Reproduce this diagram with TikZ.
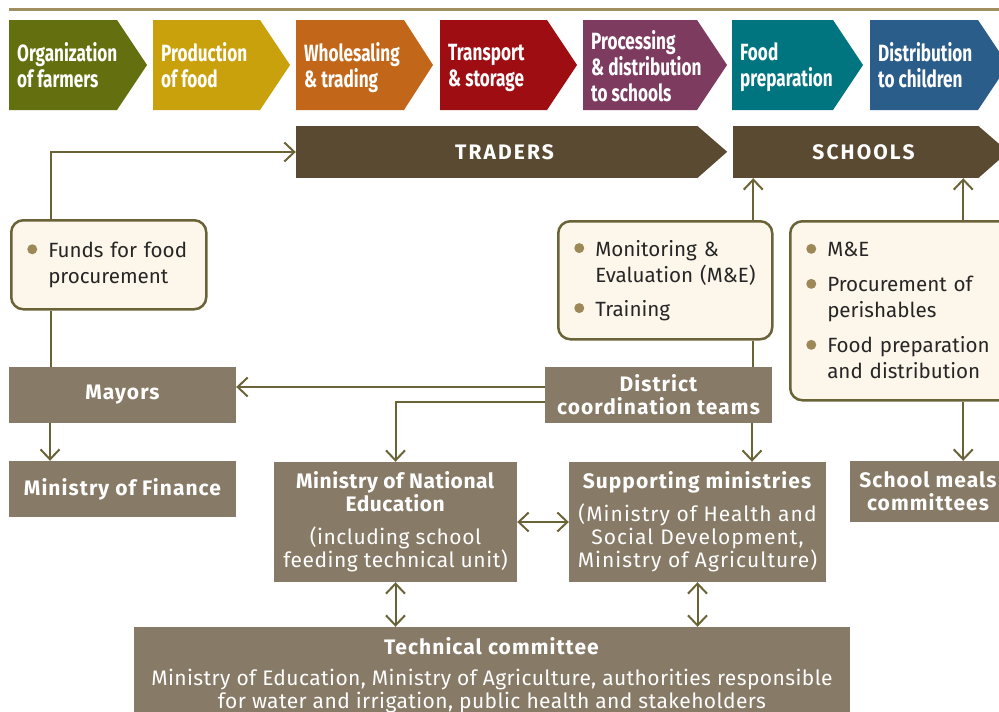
\documentclass[tikz,border=0pt]{standalone}
\usepackage{fontspec}
\setmainfont{Fira Sans}
\newfontfamily\chevfont[FakeStretch=0.73]{Fira Sans}
\newfontfamily\barfont[LetterSpace=10]{Fira Sans}
\usetikzlibrary{arrows.meta,positioning}

\definecolor{rulecol}{HTML}{A08F60}
\definecolor{orgcol}{HTML}{64700F}
\definecolor{prodcol}{HTML}{C9A10C}
\definecolor{wholecol}{HTML}{C26719}
\definecolor{transcol}{HTML}{9E0D12}
\definecolor{proccol}{HTML}{7D3B60}
\definecolor{prepcol}{HTML}{00757F}
\definecolor{distrcol}{HTML}{2B5D8A}
\definecolor{barcol}{HTML}{5A4A31}
\definecolor{boxcol}{HTML}{877A66}
\definecolor{linecol}{HTML}{6B6338}
\definecolor{creamcol}{HTML}{FDF7EB}
\definecolor{dotcol}{HTML}{9C8957}
\definecolor{txtcol}{HTML}{262626}

\newcommand{\bul}{\makebox[21pt][l]{\tikz[baseline=-3pt]\fill[dotcol] (5pt,5pt) circle (5pt);}}
\newcommand{\ind}{\hspace*{21pt}}

\begin{document}
\begin{tikzpicture}[x=1pt, y=-1pt, inner sep=0pt]
    \tikzstyle{chev}=[anchor=west, align=left, text=white, font=\chevfont\bfseries\fontsize{23.5}{26}\selectfont]
    \tikzstyle{bar}=[rectangle, fill=barcol, text=white, minimum height=52pt, font=\barfont\bfseries\fontsize{21}{24}\selectfont]
    \tikzstyle{gbox}=[rectangle, fill=boxcol, text=white, align=center, font=\fontsize{21}{23}\selectfont\addfontfeatures{LetterSpace=5}]
    \tikzstyle{gb}=[gbox, font=\bfseries\fontsize{21}{23}\selectfont\addfontfeatures{LetterSpace=5}]
    \tikzstyle{cbox}=[rectangle, rounded corners=12pt, fill=creamcol, draw=linecol, line width=2.5pt, text=txtcol, align=left, inner xsep=16pt, anchor=north west, font=\fontsize{20.6}{26}\selectfont]
    \tikzstyle{ln}=[draw=linecol, line width=2pt]
    \tikzstyle{arr}=[ln, -{Straight Barb[length=10pt, width=19pt]}]
    \tikzstyle{darr}=[ln, {Straight Barb[length=10pt, width=19pt]}-{Straight Barb[length=10pt, width=19pt]}]

    \useasboundingbox (0,0) rectangle (999,712);
    \clip (0,0) rectangle (999,712);

    % value chain
    \draw[rulecol, line width=3pt] (9,9) -- (999,9);
    \fill[orgcol] (9,20) -- (117,20) -- (147,65) -- (117,110) -- (9,110) -- cycle;
    \fill[prodcol] (153,20) -- (260,20) -- (290,65) -- (260,110) -- (153,110) -- cycle;
    \fill[wholecol] (296,20) -- (404,20) -- (433,65) -- (404,110) -- (296,110) -- cycle;
    \fill[transcol] (440,20) -- (547,20) -- (577,65) -- (547,110) -- (440,110) -- cycle;
    \fill[proccol] (583,20) -- (697,20) -- (727,65) -- (697,110) -- (583,110) -- cycle;
    \fill[prepcol] (732,20) -- (833,20) -- (863,65) -- (833,110) -- (732,110) -- cycle;
    \fill[distrcol] (870,20) -- (978,20) -- (1008,65) -- (978,110) -- (870,110) -- cycle;

    \node[chev] (org) at (17,65) {Organization\\of farmers};
    \node[chev] (prod) at (161,65) {Production\\of food};
    \node[chev] (whole) at (304,67.5) {Wholesaling\\\& trading};
    \node[chev] (trans) at (448,67.5) {Transport\\\& storage};
    \node[chev] (proc) at (591,66) {Processing\\\& distribution\\to schools};
    \node[chev] (prep) at (740,67.5) {Food\\preparation};
    \node[chev] (distr) at (878,65) {Distribution\\to children};

    \node[bar, minimum width=401pt] (traders) at (496.5,152) {\hspace*{16pt}TRADERS};
    \fill[barcol] (traders.north east) -- ++(30,26) -- (traders.south east) -- cycle;
    \node[bar, minimum width=245pt] (schools) at (855.5,152) {\hspace*{16pt}SCHOOLS};
    \fill[barcol] (schools.north east) -- ++(30,26) -- (schools.south east) -- cycle;

    % tasks
    \node[cbox, text width=163pt, minimum height=89pt] (funds) at (10,219)
      {\bul\mbox{Funds for food}\\\ind procurement};
    \node[cbox, text width=182pt, minimum height=118pt] (mon) at (557,220)
      {\bul\mbox{Monitoring \&}\\\ind\mbox{Evaluation (M\&E)}\\[8pt]\bul Training};
    \node[cbox, text width=200pt, minimum height=179pt] (tasks) at (789,220)
      {\bul M\&E\\[9pt]\bul\mbox{Procurement of}\\\ind perishables\\[9pt]\bul\mbox{Food preparation}\\\ind\mbox{and distribution}};

    % actors
    \node[gb, minimum width=227pt, minimum height=56pt] (mayors) at (122.5,395) {Mayors};
    \node[gb, minimum width=227pt, minimum height=56pt] (finance) at (122.5,489) {Ministry of Finance};
    \node[gb, minimum width=227pt, minimum height=56pt] (dct) at (658.5,395) {District\\coordination teams};
    \node[gbox, minimum width=243pt, minimum height=120pt, font=\fontsize{21}{23}\selectfont\addfontfeatures{LetterSpace=2.5}] (mne) at (395.5,522)
      {\textbf{Ministry of National}\\\textbf{Education}\\[10pt](including school\\feeding technical unit)};
    \node[gbox, minimum width=257pt, minimum height=120pt] (sm) at (697.5,522)
      {\textbf{Supporting ministries}\\[10pt](Ministry of Health and\\Social Development,\\Ministry of Agriculture)};
    \node[gb, minimum width=156pt, minimum height=61pt] (smc) at (928,491.5) {School meals\\committees};
    \node[gbox, minimum width=716pt, minimum height=96pt, font=\fontsize{21}{23}\selectfont\addfontfeatures{LetterSpace=2}] (tech) at (492,675)
      {\textbf{\addfontfeatures{LetterSpace=5}Technical committee}\\[8pt]Ministry of Education, Ministry of Agriculture, authorities responsible\\for water and irrigation, public health and stakeholders};

    % fleches
    \draw[arr] ([xshift=-57.5pt]funds.north) |- (traders.west);
    \draw[ln] ([xshift=-57.5pt]funds.south) -- ([xshift=-57.5pt]funds.south |- mayors.north);
    \draw[arr] ([xshift=-72.5pt]mayors.south) -- ([xshift=-72.5pt]finance.north);
    \draw[arr] ([yshift=8pt]dct.west) -- ([yshift=8pt]mayors.east);
    \draw[arr] ([yshift=-7pt]dct.west) -| (mne.north);
    \draw[ln] ([xshift=88pt]mon.south) -- ([xshift=88pt]mon.south |- dct.north);
    \draw[arr] ([xshift=88pt]mon.north) -- ([xshift=88pt]mon.north |- schools.south);
    \draw[arr] ([xshift=93.5pt]dct.south) -- ([xshift=93.5pt]dct.south |- sm.north);
    \draw[arr] ([xshift=57pt]tasks.north) -- ([xshift=57pt]tasks.north |- schools.south);
    \draw[arr] ([xshift=57pt]tasks.south) -- ([xshift=57pt]tasks.south |- smc.north);
    \draw[darr] (mne.east) -- (sm.west);
    \draw[darr] (mne.south) -- (mne.south |- tech.north);
    \draw[darr] (sm.south) -- (sm.south |- tech.north);
\end{tikzpicture}
\end{document}
